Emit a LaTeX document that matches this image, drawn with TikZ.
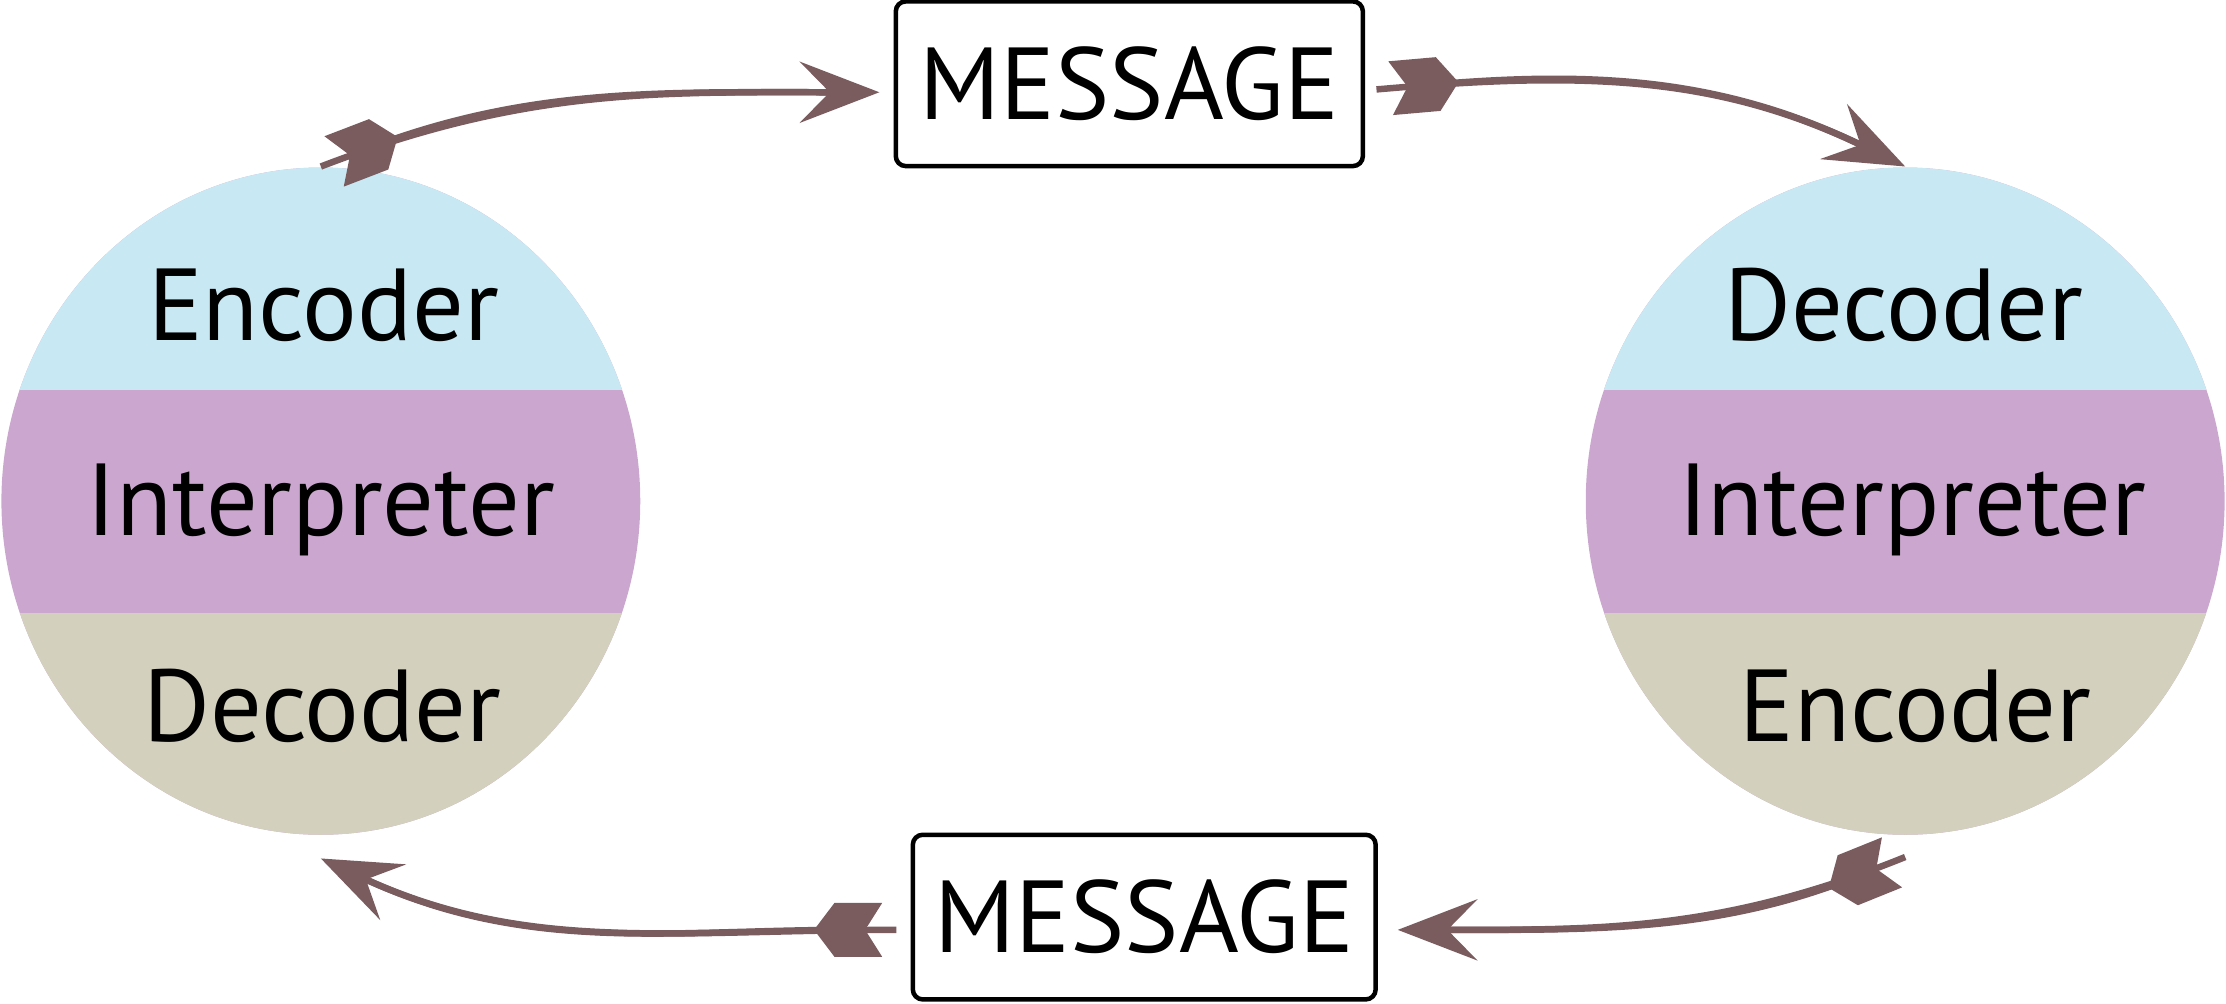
\documentclass[tikz,border=0pt]{standalone}
\usepackage{fontspec}
\setmainfont{PT Sans}
\usetikzlibrary{positioning, arrows.meta, shapes.geometric}

\definecolor{bandtop}{RGB}{200,233,244}
\definecolor{bandmid}{RGB}{203,167,207}
\definecolor{bandbot}{RGB}{211,208,190}
\definecolor{arrowbrown}{RGB}{122,91,94}

% feather at the tail of an arrow
\pgfdeclarearrow{
    name = Fletching,
    parameters = {\the\pgfarrowlength,\the\pgfarrowwidth},
    setup code = {
        \pgfarrowssettipend{0pt}
        \pgfarrowssetlineend{-0.5\pgfarrowlength}
        \pgfarrowssetbackend{-\pgfarrowlength}
        \pgfarrowssavethe\pgfarrowlength
        \pgfarrowssavethe\pgfarrowwidth
    },
    drawing code = {
        \pgfpathmoveto{\pgfqpoint{0pt}{0.5\pgfarrowwidth}}
        \pgfpathlineto{\pgfqpoint{-0.7\pgfarrowlength}{0.5\pgfarrowwidth}}
        \pgfpathlineto{\pgfqpoint{-\pgfarrowlength}{0pt}}
        \pgfpathlineto{\pgfqpoint{-0.7\pgfarrowlength}{-0.5\pgfarrowwidth}}
        \pgfpathlineto{\pgfqpoint{0pt}{-0.5\pgfarrowwidth}}
        \pgfpathlineto{\pgfqpoint{-0.25\pgfarrowlength}{0pt}}
        \pgfpathclose
        \pgfusepathqfill
    },
    defaults = {length=0.48cm, width=0.38cm}
}

\begin{document}
\begin{tikzpicture}[
            msg/.style={draw, line width=0.9pt, rounded corners=0.07cm, minimum width=3.29cm, minimum height=1.16cm, inner sep=0pt, font=\fontsize{20.5}{24}\selectfont},
            role/.style={anchor=base, font=\fontsize{20.5}{24}\selectfont},
            party/.style={ellipse, fill=bandmid, minimum width=4.5cm, minimum height=4.7cm, inner sep=0pt,
                path picture={
                    \fill[bandtop] (path picture bounding box.north west) rectangle ([yshift=0.78cm]path picture bounding box.east);
                    \fill[bandbot] ([yshift=-0.79cm]path picture bounding box.west) rectangle (path picture bounding box.south east);
                }},
            flow/.style={draw=arrowbrown, line width=1.3pt,
                {Fletching[sep=0.1cm]}-{Stealth[length=0.56cm, width=0.43cm, inset=0.21cm]},
                preaction={draw=arrowbrown, line width=1.3pt, arrows=-, shorten >=0.3cm}},
        ]
            \useasboundingbox (0,0) rectangle (15.68,7.07);

            % Draw the two persons
            \node[party] (sender) at (2.26,3.54) {};
            \node[party] (receiver) at (13.42,3.54) {};

            % Draw their roles
            \node[role] (sender-enc) at (2.28,4.67) {Encoder};
            \node[role] (sender-int) at (2.26,3.30) {Interpreter};
            \node[role] (sender-dec) at (2.27,1.85) {Decoder};
            \node[role] (receiver-dec) at (13.41,4.67) {Decoder};
            \node[role] (receiver-int) at (13.47,3.30) {Interpreter};
            \node[role] (receiver-enc) at (13.49,1.85) {Encoder};

            % Draw the messages
            \node[msg] (msg-top) at (7.955,6.48) {MESSAGE};
            \node[msg, minimum width=3.26cm] (msg-bot) at (8.06,0.61) {MESSAGE};

            % Connect the persons through the messages
            \draw[flow] (sender.north) to[out=21, in=180] ([shift={(-0.1,-0.06)}]msg-top.west);
            \draw[flow] ([shift={(0.08,-0.04)}]msg-top.east) to[out=5, in=154] (receiver.north);
            \draw[flow] ([yshift=-0.15cm]receiver.south) to[out=202, in=0] ([shift={(0.14,-0.09)}]msg-bot.east);
            \draw[flow] ([shift={(-0.1,-0.09)}]msg-bot.west) to[out=180, in=-25] ([yshift=-0.16cm]sender.south);
        \end{tikzpicture}
\end{document}
